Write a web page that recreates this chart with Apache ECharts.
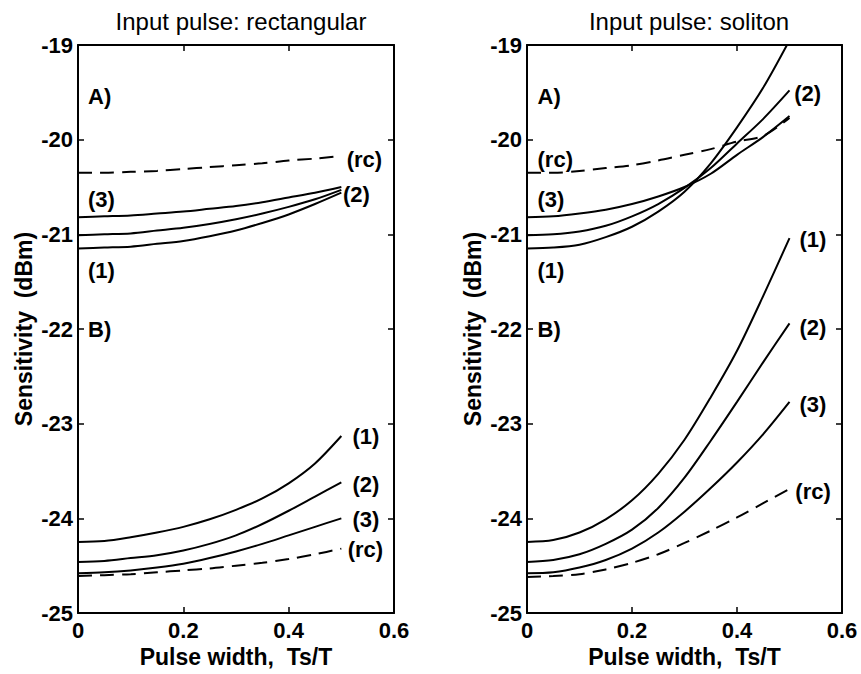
<!DOCTYPE html>
<html>
<head>
<meta charset="utf-8">
<script src="https://cdn.jsdelivr.net/npm/echarts@6/dist/echarts.min.js"></script>
<style>
html,body{margin:0;padding:0;background:#fff;}
#chart{width:861px;height:674px;}
</style>
</head>
<body>
<div id="chart"></div>
<script>
// ---- data ----
const pulseWidth = [0, 0.05, 0.1, 0.15, 0.2, 0.25, 0.3, 0.35, 0.4, 0.45, 0.5];
const xTickLabels = ['0', '0.2', '0.4', '0.6'];
const yTickLabels = ['-25', '-24', '-23', '-22', '-21', '-20', '-19'];

// Rectangular input pulse, group A
const rectA_rc = [-20.35,-20.35,-20.34,-20.33,-20.31,-20.29,-20.27,-20.25,-20.22,-20.20,-20.17];
const rectA_3  = [-20.82,-20.81,-20.80,-20.78,-20.76,-20.73,-20.70,-20.66,-20.61,-20.56,-20.50];
const rectA_2  = [-21.01,-21.00,-20.99,-20.96,-20.93,-20.89,-20.84,-20.78,-20.71,-20.63,-20.53];
const rectA_1  = [-21.15,-21.14,-21.13,-21.10,-21.07,-21.02,-20.96,-20.88,-20.79,-20.68,-20.56];
// Rectangular input pulse, group B
const rectB_1  = [-24.25,-24.24,-24.20,-24.15,-24.09,-24.01,-23.91,-23.79,-23.63,-23.42,-23.13];
const rectB_2  = [-24.46,-24.45,-24.42,-24.39,-24.34,-24.27,-24.18,-24.06,-23.92,-23.77,-23.62];
const rectB_3  = [-24.58,-24.57,-24.55,-24.52,-24.48,-24.42,-24.35,-24.27,-24.18,-24.09,-24.00];
const rectB_rc = [-24.61,-24.60,-24.59,-24.57,-24.55,-24.53,-24.50,-24.47,-24.43,-24.38,-24.32];

// Soliton input pulse, group A
const solA_1  = [-21.15,-21.14,-21.11,-21.03,-20.92,-20.76,-20.55,-20.25,-19.87,-19.45,-18.95];
const solA_2  = [-21.01,-21.00,-20.97,-20.91,-20.81,-20.68,-20.51,-20.30,-20.04,-19.78,-19.48];
const solA_3  = [-20.82,-20.81,-20.78,-20.74,-20.68,-20.60,-20.50,-20.36,-20.16,-19.97,-19.75];
const solA_rc = [-20.35,-20.35,-20.33,-20.30,-20.27,-20.22,-20.16,-20.10,-20.02,-19.96,-19.77];
// Soliton input pulse, group B
const solB_1  = [-24.25,-24.23,-24.15,-24.01,-23.81,-23.53,-23.17,-22.72,-22.23,-21.65,-21.04];
const solB_2  = [-24.46,-24.44,-24.38,-24.27,-24.12,-23.89,-23.57,-23.18,-22.77,-22.35,-21.94];
const solB_3  = [-24.58,-24.57,-24.52,-24.44,-24.32,-24.15,-23.93,-23.68,-23.41,-23.11,-22.77];
const solB_rc = [-24.62,-24.61,-24.59,-24.54,-24.47,-24.38,-24.26,-24.13,-23.99,-23.84,-23.69];

// annotation texts (in data coordinates)
const rectNotes = [
  [0.02, -19.55, 'A)'], [0.511, -20.21, '(rc)'], [0.02, -20.64, '(3)'],
  [0.504, -20.58, '(2)'], [0.02, -21.39, '(1)'], [0.02, -22.01, 'B)'],
  [0.522, -23.14, '(1)'], [0.522, -23.65, '(2)'], [0.522, -24.02, '(3)'],
  [0.513, -24.33, '(rc)']
];
const solNotes = [
  [0.021, -19.55, 'A)'], [0.021, -20.21, '(rc)'], [0.021, -20.64, '(3)'],
  [0.021, -21.39, '(1)'], [0.51, -19.52, '(2)'], [0.021, -22.01, 'B)'],
  [0.52, -21.06, '(1)'], [0.52, -21.99, '(2)'], [0.52, -22.80, '(3)'],
  [0.512, -23.72, '(rc)']
];

// ---- chart ----
const FONT = '"Liberation Sans", Arial, Helvetica, sans-serif';
const pairs = arr => pulseWidth.map((x, i) => [x, arr[i]]);

function lineSeries(arr, gi, dashed) {
  return {
    type: 'line', xAxisIndex: gi * 2, yAxisIndex: gi * 2,
    data: pairs(arr), symbol: 'none', smooth: 0.3, clip: true,
    lineStyle: { color: '#000', width: 2, type: dashed ? [14, 8] : 'solid' },
    silent: true, animation: false
  };
}
function noteSeries(notes, gi) {
  return {
    type: 'scatter', xAxisIndex: gi * 2, yAxisIndex: gi * 2,
    data: notes, symbolSize: 1, itemStyle: { color: 'rgba(0,0,0,0)' },
    silent: true, animation: false,
    label: {
      show: true, position: [0, 0], align: 'left', verticalAlign: 'middle',
      formatter: p => p.value[2], color: '#000', opacity: 1,
      fontSize: 22, fontWeight: 'bold', fontFamily: FONT
    }
  };
}
function xAxes(gi) {
  const common = {
    type: 'value', gridIndex: gi, min: 0, max: 0.6, interval: 0.2,
    splitLine: { show: false },
    axisLine: { show: true, onZero: false, lineStyle: { color: '#000', width: 2 } },
    axisTick: { show: true, inside: true, length: 6, lineStyle: { color: '#000', width: 1.5 } }
  };
  return [
    Object.assign({}, common, {
      position: 'bottom',
      name: 'Pulse width,  Ts/T', nameLocation: 'middle', nameGap: 31,
      nameTextStyle: { color: '#000', fontSize: 23, fontWeight: 'bold', fontFamily: FONT },
      axisLabel: { show: true, margin: 6, color: '#000', fontSize: 22, fontWeight: 'bold', fontFamily: FONT,
        formatter: v => xTickLabels[Math.round(v / 0.2)] }
    }),
    Object.assign({}, common, { position: 'top', axisLabel: { show: false } })
  ];
}
function yAxes(gi) {
  const common = {
    type: 'value', gridIndex: gi, min: -25, max: -19, interval: 1,
    splitLine: { show: false },
    axisLine: { show: true, onZero: false, lineStyle: { color: '#000', width: 2 } },
    axisTick: { show: true, inside: true, length: 6, lineStyle: { color: '#000', width: 1.5 } }
  };
  return [
    Object.assign({}, common, {
      position: 'left',
      name: 'Sensitivity  (dBm)', nameLocation: 'middle', nameGap: 43,
      nameTextStyle: { color: '#000', fontSize: 23, fontWeight: 'bold', fontFamily: FONT },
      axisLabel: { show: true, margin: 5, color: '#000', fontSize: 22, fontWeight: 'bold', fontFamily: FONT,
        formatter: v => yTickLabels[Math.round(v + 25)] }
    }),
    Object.assign({}, common, { position: 'right', axisLabel: { show: false } })
  ];
}

const chart = echarts.init(document.getElementById('chart'), null, { renderer: 'svg' });
chart.setOption({
  backgroundColor: '#fff',
  animation: false,
  title: [
    { text: 'Input pulse: rectangular', left: 236, top: 4, textAlign: 'center',
      textStyle: { color: '#000', fontSize: 24, fontWeight: 'normal', fontFamily: FONT } },
    { text: 'Input pulse: soliton', left: 684, top: 4, textAlign: 'center',
      textStyle: { color: '#000', fontSize: 24, fontWeight: 'normal', fontFamily: FONT } }
  ],
  grid: [
    { left: 78, top: 45, width: 316, height: 568 },
    { left: 527, top: 45, width: 315, height: 568 }
  ],
  xAxis: [...xAxes(0), ...xAxes(1)],
  yAxis: [...yAxes(0), ...yAxes(1)],
  series: [
    lineSeries(rectA_rc, 0, true), lineSeries(rectA_3, 0), lineSeries(rectA_2, 0), lineSeries(rectA_1, 0),
    lineSeries(rectB_1, 0), lineSeries(rectB_2, 0), lineSeries(rectB_3, 0), lineSeries(rectB_rc, 0, true),
    lineSeries(solA_1, 1), lineSeries(solA_2, 1), lineSeries(solA_3, 1), lineSeries(solA_rc, 1, true),
    lineSeries(solB_1, 1), lineSeries(solB_2, 1), lineSeries(solB_3, 1), lineSeries(solB_rc, 1, true),
    noteSeries(rectNotes, 0), noteSeries(solNotes, 1)
  ]
});
</script>
</body>
</html>
